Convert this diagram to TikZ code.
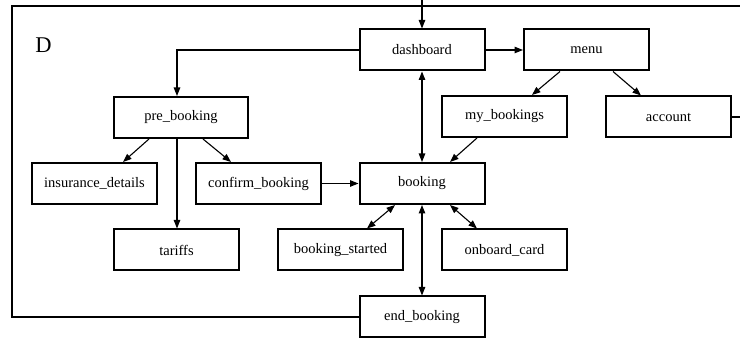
\documentclass[tikz,border=0pt]{standalone}
\usepackage{fontspec}
\setmainfont{Liberation Serif}
\usetikzlibrary{arrows.meta}
\begin{document}
\begin{tikzpicture}[x=1pt,y=-1pt,
  box/.style={draw,line width=2pt,minimum width=125pt,minimum height=41pt,inner sep=0pt,font=\fontsize{14.5}{16}\selectfont},
  conn/.style={line width=1.1pt},
  arr/.style={conn,-{Triangle[length=8.5pt,width=6.5pt]}},
  darr/.style={conn,{Triangle[length=8.5pt,width=6.5pt]}-{Triangle[length=8.5pt,width=6.5pt]}}]
\useasboundingbox (0,0) rectangle (740,339);
\node[box] (dash) at (422,50) {dashboard};
\node[box] (menu) at (586.5,50) {menu};
\node[box,minimum width=134pt] (pre) at (181,117.5) {pre\_booking};
\node[box] (myb) at (504.5,116.5) {my\_bookings};
\node[box] (acc) at (668.5,117) {account};
\node[box] (ins) at (94.5,183.5) {insurance\_details};
\node[box] (conf) at (258.5,183.5) {confirm\_booking};
\node[box] (book) at (422,183.5) {booking};
\node[box] (tar) at (176.5,250) {tariffs};
\node[box] (bst) at (340.5,250) {booking\_started};
\node[box] (onb) at (504.5,250) {onboard\_card};
\node[box] (end) at (422,317) {end\_booking};
\node[font=\fontsize{22.5}{24}\selectfont,anchor=base] (D) at (43.5,53) {D};
\coordinate (topin) at (422,0);
\coordinate (tl) at (12,6);
\coordinate (tr) at (740,6);
\coordinate (bl) at (12,317);
\coordinate (accr) at (740,117);
\draw[arr] (topin) -- (dash.north);
\draw[arr] (dash.west) -| (pre.north -| 177,0);
\draw[arr] (dash.east) -- (menu.west);
\draw[darr] (dash.south) -- (book.north);
\draw[arr] ([xshift=-26.5pt]menu.south) -- ([xshift=27.5pt]myb.north);
\draw[arr] ([xshift=26.5pt]menu.south) -- ([xshift=-27.5pt]acc.north);
\draw[arr] ([xshift=-27.5pt]myb.south) -- ([xshift=28pt]book.north);
\draw[arr] ([xshift=-32pt]pre.south) -- ([xshift=28.5pt]ins.north);
\draw[arr] ([xshift=22pt]pre.south) -- ([xshift=-27.5pt]conf.north);
\draw[arr] (pre.south -| 177,0) -- (tar.north -| 177,0);
\draw[arr] (conf.east) -- (book.west);
\draw[darr] ([xshift=-27pt]book.south) -- ([xshift=26.5pt]bst.north);
\draw[darr] ([xshift=28pt]book.south) -- ([xshift=-27.5pt]onb.north);
\draw[darr] (book.south) -- (end.north);
\draw[conn] (end.west) -- (bl) -- (tl) -- (tr);
\draw[conn] (acc.east) -- (accr);
\end{tikzpicture}
\end{document}
